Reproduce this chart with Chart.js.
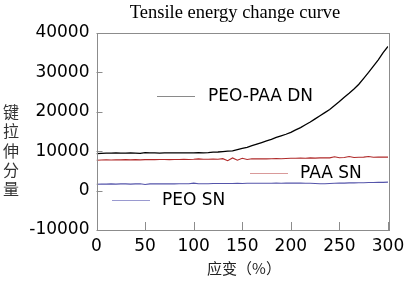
<!DOCTYPE html>
<html><head><meta charset="utf-8">
<script src="https://cdn.jsdelivr.net/npm/chart.js@4"></script>
<style>html,body{margin:0;padding:0;background:#fff}canvas{display:block}</style>
</head><body>
<canvas id="c" width="411" height="297"></canvas>
<script>
const strain = [0,5,10,15,20,25,30,35,40,45,50,55,60,65,70,75,80,85,90,95,100,105,110,115,120,125,130,135,140,145,150,155,160,165,170,175,180,185,190,195,200,205,210,215,220,225,230,235,240,245,250,255,260,265,270,275,280,285,290,295,300];
const peoPaaDN = [9400,9450,9500,9500,9550,9500,9500,9550,9500,9450,9650,9550,9550,9500,9550,9550,9550,9550,9550,9550,9600,9650,9600,9650,9750,9800,9900,10000,10100,10400,10700,11000,11400,11800,12200,12600,13000,13500,13900,14300,14800,15400,16000,16700,17400,18200,19000,19800,20600,21600,22600,23700,24700,25800,27000,28500,30000,31600,33200,35000,36600];
const paaSN = [7700,7750,7800,7750,7800,7800,7850,7800,7850,7800,7850,7900,7850,7900,7900,7850,7900,7900,7950,7900,7950,8050,7950,7950,8000,7950,8100,7600,8300,7700,8200,7900,8100,8050,8100,8050,8100,8150,8100,8150,8200,8200,8250,8200,8300,8250,8300,8350,8300,8600,8350,8400,8650,8400,8450,8500,8650,8450,8500,8500,8500];
const peoSN = [1600,1650,1650,1700,1650,1700,1700,1650,1700,1750,1550,1700,1700,1700,1750,1700,1700,1750,1750,1750,1900,1750,1750,1750,1800,1800,1800,1800,1800,1850,1800,1850,1850,1850,1850,1850,1850,1900,1850,1900,1900,1900,1900,1850,1850,1800,1750,1750,1800,1850,1900,1900,1950,1950,2000,2000,2050,2050,2100,2100,2150];
const seriesNames = ['PEO-PAA DN','PAA SN','PEO SN'];
const xTicks = [0,50,100,150,200,250,300];
const yTicks = [-10000,0,10000,20000,30000,40000];
const chartTitle = 'Tensile energy change curve';
const yTitle = ['键','拉','伸','分','量'];
const xTitle = '应变（%）';

const pts = (ys) => strain.map((x,i)=>({x:x,y:ys[i]}));

const deco = {
  id:'deco',
  afterDraw(chart){
    const ctx = chart.ctx, a = chart.chartArea;
    const xs = chart.scales.x, ys = chart.scales.y;
    ctx.save();
    ctx.strokeStyle = '#8c8c8c'; ctx.lineWidth = 1;
    ctx.strokeRect(Math.round(a.left)+0.5, Math.round(a.top)+0.5, Math.round(a.right-a.left), Math.round(a.bottom-a.top));
    ctx.beginPath();
    yTicks.forEach(v=>{const y=Math.round(ys.getPixelForValue(v))+0.5; ctx.moveTo(a.left,y); ctx.lineTo(a.left+6,y);});
    xTicks.forEach(v=>{const x=Math.round(xs.getPixelForValue(v))+0.5; ctx.moveTo(x,a.bottom); ctx.lineTo(x,a.bottom-8);});
    ctx.stroke();
    ctx.fillStyle = '#000';
    ctx.font = '18.5px "Liberation Serif"';
    ctx.textAlign = 'center'; ctx.textBaseline = 'middle';
    ctx.fillText(chartTitle, 235, 13);
    ctx.fillStyle = '#333';
    ctx.font = '16px "Noto Sans CJK SC"';
    yTitle.forEach((ch,i)=>ctx.fillText(ch, 11, 112 + i*19.3));
    ctx.fillStyle = '#222';
    ctx.font = '15px "Noto Sans CJK SC"';
    ctx.fillText(xTitle, 244, 268);
    const leg = [
      {name:seriesNames[0], c:'#8a8a8a', x1:157, x2:195, y:96.5, tx:208},
      {name:seriesNames[1], c:'#d99a9a', x1:250, x2:288, y:173.5, tx:300},
      {name:seriesNames[2], c:'#9a9ad0', x1:112, x2:150, y:200.5, tx:162}
    ];
    ctx.font = '17px "DejaVu Sans"';
    ctx.textAlign = 'left';
    leg.forEach(l=>{
      ctx.strokeStyle=l.c; ctx.lineWidth=1.2;
      ctx.beginPath(); ctx.moveTo(l.x1,l.y); ctx.lineTo(l.x2,l.y); ctx.stroke();
      ctx.fillStyle='#000'; ctx.fillText(l.name, l.tx, l.y);
    });
    ctx.restore();
  }
};

new Chart(document.getElementById('c'), {
  type:'line',
  data:{datasets:[
    {label:seriesNames[0], data:pts(peoPaaDN), borderColor:'#000', borderWidth:1.3, pointRadius:0, tension:0},
    {label:seriesNames[1], data:pts(paaSN), borderColor:'#b02a2a', borderWidth:1.1, pointRadius:0, tension:0},
    {label:seriesNames[2], data:pts(peoSN), borderColor:'#5555aa', borderWidth:1.1, pointRadius:0, tension:0}
  ]},
  options:{
    responsive:false, animation:false, devicePixelRatio:1,
    layout:{padding:{top:33, right:23, left:0, bottom:0}},
    plugins:{legend:{display:false}, tooltip:{enabled:false}, title:{display:false}},
    scales:{
      x:{type:'linear', min:0, max:300,
        afterBuildTicks(s){ s.ticks = xTicks.map(v=>({value:v})); },
        afterFit(s){ s.height = 67; },
        grid:{display:false, drawTicks:false}, border:{display:false},
        ticks:{font:{family:'DejaVu Sans', size:17}, color:'#000', padding:6, maxRotation:0, callback:(v)=>String(v)}},
      y:{min:-10000, max:40000,
        afterBuildTicks(s){ s.ticks = yTicks.map(v=>({value:v})); },
        afterFit(s){ s.width = 96.5; },
        grid:{display:false, drawTicks:false}, border:{display:false},
        ticks:{font:{family:'DejaVu Sans', size:17}, color:'#000', padding:7, callback:(v)=>String(v)}}
    }
  },
  plugins:[deco]
});
</script>
</body></html>
